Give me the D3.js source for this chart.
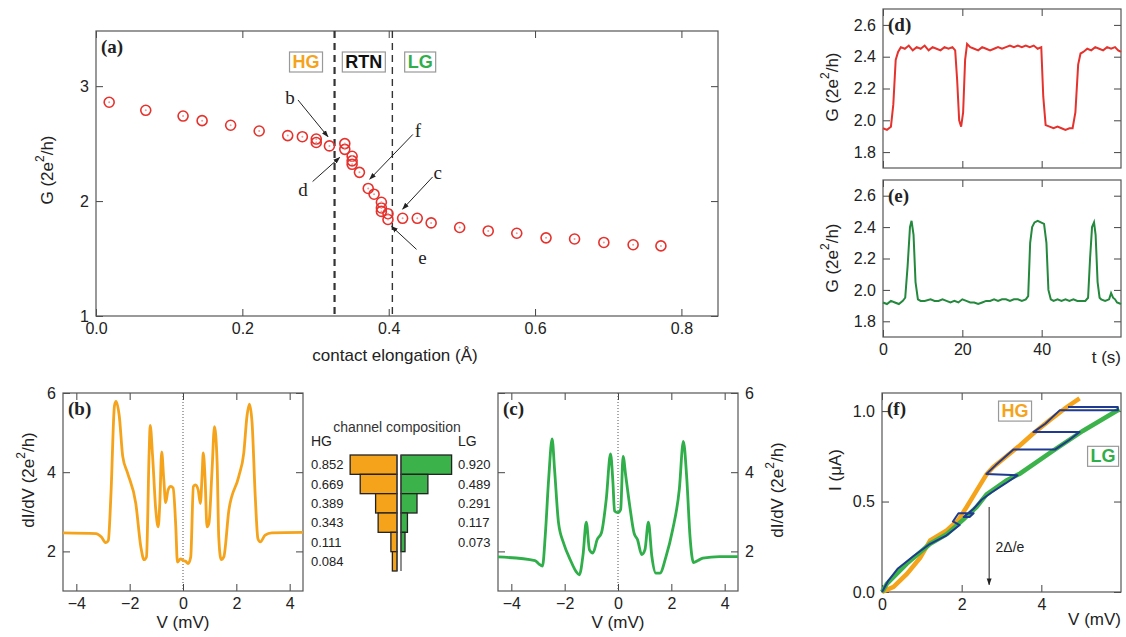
<!DOCTYPE html>
<html lang="en">
<head>
<meta charset="UTF-8">
<title>Atomic contact: RTN, dI/dV and I-V</title>
<script src="https://cdn.jsdelivr.net/npm/d3@7"></script>
<style>
  body { margin: 0; background: #fff; }
  svg text { font-family: "Liberation Sans", Arial, sans-serif; fill: #222; }
  .tick line { stroke: #444; stroke-width: 1; }
  .domain { display: none; }
  .plab { font-family: "Liberation Serif", serif; font-weight: bold; font-size: 19px; }
  .ann { font-family: "Liberation Serif", serif; font-size: 19px; }
</style>
</head>
<body>
<svg id="fig" width="1126" height="637"></svg>
<script>
// ---- data ----
// (a) conductance vs contact elongation
const elongA = [0.018,0.068,0.119,0.145,0.184,0.223,0.262,0.282,0.301,0.301,0.319,0.340,0.340,0.350,0.350,0.350,0.360,0.372,0.380,0.390,0.390,0.390,0.399,0.399,0.419,0.439,0.458,0.497,0.536,0.575,0.615,0.654,0.694,0.734,0.772];
const condA  = [2.86,2.79,2.74,2.70,2.66,2.61,2.57,2.56,2.54,2.51,2.48,2.50,2.45,2.39,2.35,2.32,2.25,2.11,2.06,1.99,1.94,1.91,1.89,1.84,1.85,1.85,1.81,1.77,1.74,1.72,1.68,1.67,1.64,1.62,1.61];
const regionBounds = [0.326, 0.405];
const regionNames = ["HG", "RTN", "LG"];
const regionPos = [0.287, 0.366, 0.443];
// annotation letters: [label, labelX, labelY, fromX, fromY, toX, toY]
const arrowsA = [
  ["b", 0.265, 2.90, 0.276, 2.88, 0.317, 2.56],
  ["d", 0.283, 2.10, 0.296, 2.17, 0.333, 2.38],
  ["f", 0.440, 2.61, 0.433, 2.58, 0.374, 2.19],
  ["c", 0.467, 2.25, 0.460, 2.21, 0.419, 1.93],
  ["e", 0.446, 1.51, 0.438, 1.58, 0.404, 1.78]
];

// (d) and (e) conductance time traces [t (s), G]
const traceD = [[0,1.95],[1,1.94],[2,1.96],[2.6,2.10],[3.2,2.38],[3.8,2.43],[4.5,2.46],[5.5,2.45],[6.5,2.47],[7.5,2.44],[8.5,2.46],[9.5,2.45],[10.5,2.47],[11.5,2.44],[12.5,2.46],[13.5,2.45],[14.5,2.44],[15.5,2.46],[16.5,2.45],[17.5,2.46],[18.2,2.44],[18.7,2.25],[19.2,2.00],[19.7,1.96],[20.2,2.05],[20.7,2.38],[21.2,2.48],[22,2.46],[23,2.45],[24,2.44],[25,2.46],[26,2.45],[27,2.44],[28,2.45],[29,2.46],[30,2.45],[31,2.46],[32,2.47],[33,2.46],[34,2.47],[35,2.46],[36,2.47],[37,2.46],[38,2.47],[39,2.45],[39.9,2.46],[40.4,2.15],[41,1.97],[42,1.96],[43,1.95],[44,1.96],[45,1.95],[46,1.94],[47,1.95],[47.8,1.95],[48.5,2.05],[49.2,2.35],[49.8,2.42],[50.5,2.43],[51.5,2.45],[52.5,2.44],[53.5,2.46],[54.5,2.45],[55.5,2.44],[56.5,2.46],[57.5,2.45],[58.5,2.46],[59.3,2.44],[60,2.43]];
const traceE = [[0,1.92],[1,1.91],[2,1.93],[3,1.92],[4,1.91],[5,1.93],[5.6,1.95],[6.2,2.15],[6.8,2.40],[7.2,2.44],[7.7,2.35],[8.2,2.05],[8.8,1.94],[9.5,1.93],[10.5,1.93],[12,1.94],[13,1.93],[14,1.93],[15,1.94],[16,1.93],[17,1.92],[18,1.93],[19,1.92],[20,1.94],[21,1.93],[22,1.92],[23,1.92],[24,1.91],[25,1.92],[26,1.93],[27,1.93],[28,1.94],[29,1.93],[30,1.94],[31,1.94],[32,1.93],[33,1.94],[34,1.94],[35,1.93],[36,1.94],[36.6,1.96],[37.1,2.30],[37.6,2.40],[38.2,2.43],[39,2.44],[39.8,2.43],[40.6,2.42],[41.2,2.30],[41.7,2.00],[42.3,1.94],[43,1.93],[44,1.94],[45,1.93],[46,1.94],[47,1.93],[48,1.94],[49,1.93],[50,1.93],[51,1.93],[51.7,1.95],[52.2,2.20],[52.7,2.40],[53.2,2.43],[53.6,2.35],[54.1,2.05],[54.6,1.95],[55,1.94],[56,1.93],[57,1.94],[57.5,1.98],[58,1.95],[58.5,1.94],[59,1.92],[60,1.91]];

// (b) HG and (c) LG differential conductance [V (mV), dI/dV]
const spectrumHG = [[-4.5,2.47],[-3.26,2.45],[-3.07,2.37],[-2.89,2.22],[-2.80,2.28],[-2.70,3.47],[-2.57,5.68],[-2.51,5.79],[-2.39,5.42],[-2.26,4.40],[-2.08,3.98],[-1.77,3.21],[-1.58,2.11],[-1.46,1.79],[-1.37,1.86],[-1.27,4.49],[-1.23,5.18],[-1.14,4.40],[-1.02,3.04],[-0.93,2.62],[-0.87,3.21],[-0.80,4.51],[-0.72,3.81],[-0.65,3.23],[-0.56,3.55],[-0.46,3.64],[-0.37,3.60],[-0.27,2.62],[-0.21,1.73],[-0.09,1.81],[0,1.77],[0.10,1.75],[0.19,1.69],[0.29,1.86],[0.39,3.64],[0.47,3.68],[0.57,3.55],[0.65,3.21],[0.72,3.98],[0.76,4.49],[0.83,3.81],[0.90,2.62],[0.97,2.70],[1.09,4.06],[1.18,5.15],[1.28,4.23],[1.34,2.37],[1.43,1.79],[1.53,1.86],[1.72,3.04],[2.09,3.89],[2.28,4.49],[2.40,5.42],[2.49,5.72],[2.59,5.25],[2.71,3.38],[2.81,2.32],[2.90,2.24],[3.08,2.41],[3.33,2.47],[4.5,2.48]];
const spectrumLG = [[-4.5,1.86],[-3.11,1.77],[-2.96,1.68],[-2.83,1.63],[-2.73,2.38],[-2.60,3.83],[-2.47,4.84],[-2.38,4.08],[-2.23,2.72],[-2.04,2.21],[-1.79,1.79],[-1.57,1.49],[-1.45,1.41],[-1.31,1.92],[-1.19,2.74],[-1.07,2.04],[-0.94,1.96],[-0.78,2.30],[-0.62,2.47],[-0.44,3.32],[-0.28,4.46],[-0.19,3.74],[-0.13,3.02],[0,2.98],[0.10,3.06],[0.19,4.40],[0.29,3.91],[0.44,3.15],[0.60,2.47],[0.73,2.30],[0.89,1.92],[1.01,2.04],[1.14,2.74],[1.27,1.87],[1.42,1.45],[1.57,1.45],[1.80,1.87],[2.05,2.55],[2.30,3.57],[2.45,4.78],[2.58,3.83],[2.70,2.38],[2.83,1.72],[3.00,1.77],[3.18,1.83],[3.81,1.87],[4.5,1.87]];

// channel composition (transmissions)
const tauHG = [0.852, 0.669, 0.389, 0.343, 0.111, 0.084];
const tauLG = [0.920, 0.489, 0.291, 0.117, 0.073];

// (f) I-V curves [V (mV), I (uA)]
const ivHG = [[0,0],[0.29,0.028],[0.625,0.10],[0.96,0.19],[1.21,0.285],[1.625,0.34],[1.92,0.40],[2.125,0.47],[2.375,0.56],[2.625,0.65],[2.79,0.69],[3.125,0.75],[3.46,0.81],[3.79,0.875],[4.21,0.95],[4.625,1.02],[4.96,1.07]];
const ivLG = [[0,0],[0.125,0.046],[0.625,0.157],[1.21,0.267],[1.625,0.32],[2.04,0.40],[2.375,0.47],[2.625,0.54],[3.125,0.617],[3.46,0.654],[4.29,0.78],[5.04,0.89],[5.96,1.01]];
const ivRTN = [[0,0],[0.15,0.06],[0.4,0.13],[0.8,0.2],[1.2,0.265],[1.6,0.31],[1.95,0.37],[1.78,0.39],[1.92,0.435],[2.3,0.435],[2.2,0.415],[2.05,0.415],[2.3,0.46],[2.5,0.51],[2.75,0.55],[3.1,0.6],[3.4,0.645],[2.62,0.652],[2.85,0.70],[3.3,0.788],[4.35,0.788],[4.7,0.84],[4.96,0.884],[3.8,0.884],[4.1,0.93],[4.46,1.004],[5.92,1.004],[5.92,1.022],[4.67,1.022]];

const RED = "#e5322d", ORANGE = "#f5a31b", GREEN = "#2fae4a", DKGREEN = "#24893d", NAVY = "#1f3a8f";

const svg = d3.select("#fig");
svg.append("defs").append("marker")
  .attr("id", "arr").attr("viewBox", "0 0 10 10").attr("refX", 9).attr("refY", 5)
  .attr("markerWidth", 7).attr("markerHeight", 7).attr("orient", "auto")
  .append("path").attr("d", "M0,1.5L10,5L0,8.5Z").attr("fill", "#222");

const TK = 7;
// frame with inward ticks on all four sides
function panel(x, y, o) {
  const g = svg.append("g");
  const [x0, x1] = x.range(), [yb, yt] = y.range();
  g.append("g").attr("transform", `translate(0,${yb})`)
    .call(d3.axisBottom(x).tickValues(o.xt).tickSize(-TK).tickPadding(7).tickFormat(o.xlab ? o.xf : ""));
  g.append("g").attr("transform", `translate(0,${yt})`)
    .call(d3.axisTop(x).tickValues(o.xt).tickSize(-TK).tickFormat(""));
  g.append("g").attr("transform", `translate(${x0},0)`)
    .call(d3.axisLeft(y).tickValues(o.yt).tickSize(-TK).tickPadding(7).tickFormat(o.ylab === "left" ? o.yf : ""));
  g.append("g").attr("transform", `translate(${x1},0)`)
    .call(d3.axisRight(y).tickValues(o.yt).tickSize(-TK).tickPadding(7).tickFormat(o.ylab === "right" ? o.yf : ""));
  g.selectAll(".tick text").attr("font-size", 16).attr("fill", "#222")
    .attr("font-family", "'Liberation Sans', Arial, sans-serif");
  g.append("rect").attr("x", x0).attr("y", yt).attr("width", x1 - x0).attr("height", yb - yt)
    .attr("fill", "none").attr("stroke", "#555").attr("stroke-width", 1.2);
  g.append("text").attr("class", "plab").attr("x", x0 + 5).attr("y", yt + 22).text(o.name);
  return g;
}
// rotated axis title, optional superscript: [before, sup, after]
function vlabel(x, y, parts) {
  const t = svg.append("text").attr("transform", `translate(${x},${y}) rotate(-90)`)
    .attr("text-anchor", "middle").attr("dominant-baseline", "central").style("font-size", "17px");
  t.append("tspan").text(parts[0]);
  if (parts.length > 1) {
    t.append("tspan").attr("dy", -7).style("font-size", "12px").text(parts[1]);
    t.append("tspan").attr("dy", 7).text(parts[2]);
  }
}
function boxed(g, x, y, txt, col) {
  const box = g.append("g");
  const r = box.append("rect");
  const t = box.append("text").attr("x", x).attr("y", y).attr("text-anchor", "middle")
    .attr("dominant-baseline", "central").style("font-size", "18px").style("font-weight", "bold")
    .style("fill", col).text(txt);
  const b = t.node().getBBox();
  r.attr("x", b.x - 3).attr("y", b.y).attr("width", b.width + 6).attr("height", b.height)
    .attr("fill", "#fff").attr("stroke", "#999").attr("stroke-width", 1.2);
}
const G_LABEL = ["G (2e", "2", "/h)"];
const DIDV_LABEL = ["dI/dV (2e", "2", "/h)"];

// ---------- (a) ----------
const xA = d3.scaleLinear().domain([0, 0.85]).range([96, 718]);
const yA = d3.scaleLinear().domain([1, 3.48]).range([316, 31]);
const gA = panel(xA, yA, { xt: [0, 0.2, 0.4, 0.6, 0.8], xlab: true, xf: d3.format(".1f"),
  yt: [1, 2, 3], ylab: "left", yf: d3.format("d"), name: "(a)" });
gA.selectAll(".dash").data(regionBounds).join("line")
  .attr("x1", d => xA(d)).attr("x2", d => xA(d)).attr("y1", yA.range()[1]).attr("y2", yA.range()[0])
  .attr("stroke", "#333").attr("stroke-width", (d, i) => i ? 1.4 : 2.2).attr("stroke-dasharray", "7,5");
const regionCols = [ORANGE, "#111", GREEN];
regionNames.forEach((n, i) => boxed(gA, xA(regionPos[i]), 62, n, regionCols[i]));
gA.append("g").selectAll("circle").data(elongA).join("circle")
  .attr("cx", d => xA(d)).attr("cy", (d, i) => yA(condA[i])).attr("r", 5)
  .attr("fill", "none").attr("stroke", RED).attr("stroke-width", 1.6);
gA.append("g").selectAll("circle").data(elongA).join("circle")
  .attr("cx", d => xA(d)).attr("cy", (d, i) => yA(condA[i])).attr("r", 1).attr("fill", "#f29a96");
arrowsA.forEach(a => {
  gA.append("line").attr("x1", xA(a[3])).attr("y1", yA(a[4])).attr("x2", xA(a[5])).attr("y2", yA(a[6]))
    .attr("stroke", "#222").attr("stroke-width", 1).attr("marker-end", "url(#arr)");
  gA.append("text").attr("class", "ann").attr("x", xA(a[1])).attr("y", yA(a[2]))
    .attr("text-anchor", "middle").attr("dominant-baseline", "central").text(a[0]);
});
svg.append("text").attr("x", 395).attr("y", 355).attr("text-anchor", "middle")
  .attr("dominant-baseline", "central").style("font-size", "17px").text("contact elongation (Å)");
vlabel(47, 170, G_LABEL);

// ---------- (d), (e) ----------
const xT = d3.scaleLinear().domain([0, 60]).range([883, 1121]);
const yD = d3.scaleLinear().domain([1.7, 2.7]).range([168, 9]);
const yE = d3.scaleLinear().domain([1.7, 2.7]).range([337, 180]);
const gT = [0, 20, 40], gY = [1.8, 2.0, 2.2, 2.4, 2.6];
const gD = panel(xT, yD, { xt: gT, xlab: false, yt: gY, ylab: "left", yf: d3.format(".1f"), name: "(d)" });
const gE = panel(xT, yE, { xt: gT, xlab: true, xf: d3.format("d"), yt: gY, ylab: "left", yf: d3.format(".1f"), name: "(e)" });
gD.append("path").datum(traceD).attr("fill", "none").attr("stroke", RED).attr("stroke-width", 2)
  .attr("d", d3.line().x(d => xT(d[0])).y(d => yD(d[1])));
gE.append("path").datum(traceE).attr("fill", "none").attr("stroke", DKGREEN).attr("stroke-width", 2)
  .attr("d", d3.line().x(d => xT(d[0])).y(d => yE(d[1])));
vlabel(832, 87, G_LABEL);
vlabel(832, 258, G_LABEL);
svg.append("text").attr("x", 1121).attr("y", 357).attr("text-anchor", "end")
  .attr("dominant-baseline", "central").style("font-size", "17px").text("t (s)");

// ---------- (b), (c) ----------
const yS = d3.scaleLinear().domain([1, 6]).range([591, 393]);
const xB = d3.scaleLinear().domain([-4.5, 4.5]).range([63, 303]);
const xC = d3.scaleLinear().domain([-4.5, 4.5]).range([498, 738]);
const vT = [-4, -2, 0, 2, 4];
const gB = panel(xB, yS, { xt: vT, xlab: true, xf: d3.format("d"), yt: [2, 4, 6], ylab: "left", yf: d3.format("d"), name: "(b)" });
const gC = panel(xC, yS, { xt: vT, xlab: true, xf: d3.format("d"), yt: [2, 4, 6], ylab: "right", yf: d3.format("d"), name: "(c)" });
[[gB, xB, spectrumHG, ORANGE], [gC, xC, spectrumLG, GREEN]].forEach(([g, x, data, col]) => {
  g.append("line").attr("x1", x(0)).attr("x2", x(0)).attr("y1", yS.range()[1]).attr("y2", yS.range()[0])
    .attr("stroke", "#555").attr("stroke-width", 1).attr("stroke-dasharray", "1,2");
  g.append("path").datum(data).attr("fill", "none").attr("stroke", col).attr("stroke-width", 2.8)
    .attr("stroke-linejoin", "round")
    .attr("d", d3.line().curve(d3.curveMonotoneX).x(d => x(d[0])).y(d => yS(d[1])));
});
svg.append("text").attr("x", xB(0)).attr("y", 622).attr("text-anchor", "middle").attr("dominant-baseline", "central")
  .style("font-size", "17px").text("V (mV)");
svg.append("text").attr("x", xC(0)).attr("y", 622).attr("text-anchor", "middle").attr("dominant-baseline", "central")
  .style("font-size", "17px").text("V (mV)");
vlabel(28, 480, DIDV_LABEL);
vlabel(777, 490, DIDV_LABEL);

// ---------- channel composition ----------
const row = d3.scaleBand().domain(d3.range(tauHG.length)).range([455, 571]).paddingInner(0);
const wT = d3.scaleLinear().domain([0, 1]).range([0, 55]);
const cx0 = 397, cx1 = 401;
const gM = svg.append("g");
gM.append("text").attr("x", 397).attr("y", 427).attr("text-anchor", "middle").attr("dominant-baseline", "central")
  .style("font-size", "14px").style("fill", "#333").text("channel composition");
gM.append("text").attr("x", 311).attr("y", 441).attr("dominant-baseline", "central").style("font-size", "14px").text("HG");
gM.append("text").attr("x", 458).attr("y", 441).attr("dominant-baseline", "central").style("font-size", "14px").text("LG");
gM.selectAll(".bh").data(tauHG).join("rect")
  .attr("x", d => cx0 - wT(d)).attr("y", (d, i) => row(i)).attr("width", d => wT(d)).attr("height", row.bandwidth())
  .attr("fill", ORANGE).attr("stroke", "#222").attr("stroke-width", 1.3);
gM.selectAll(".bl").data(tauLG).join("rect")
  .attr("x", cx1).attr("y", (d, i) => row(i)).attr("width", d => wT(d)).attr("height", row.bandwidth())
  .attr("fill", "#3cb34a").attr("stroke", "#222").attr("stroke-width", 1.3);
[cx0, cx1].forEach(x => gM.append("line").attr("x1", x).attr("x2", x).attr("y1", 455).attr("y2", 571)
  .attr("stroke", "#444").attr("stroke-width", 1.2));
gM.selectAll(".th").data(tauHG).join("text")
  .attr("x", 311).attr("y", (d, i) => row(i) + row.bandwidth() / 2).attr("dominant-baseline", "central")
  .style("font-size", "13px").text(d => d3.format(".3f")(d));
gM.selectAll(".tl").data(tauLG).join("text")
  .attr("x", 458).attr("y", (d, i) => row(i) + row.bandwidth() / 2).attr("dominant-baseline", "central")
  .style("font-size", "13px").text(d => d3.format(".3f")(d));

// ---------- (f) ----------
const xF = d3.scaleLinear().domain([0, 6]).range([882, 1121]);
const yF = d3.scaleLinear().domain([0, 1.1]).range([592, 393]);
const gF = panel(xF, yF, { xt: [0, 2, 4], xlab: true, xf: d3.format("d"), yt: [0, 0.5, 1.0], ylab: "left", yf: d3.format(".1f"), name: "(f)" });
const lineF = d3.line().x(d => xF(d[0])).y(d => yF(d[1]));
gF.append("path").datum(ivHG).attr("fill", "none").attr("stroke", ORANGE).attr("stroke-width", 4.5).attr("d", lineF);
gF.append("path").datum(ivLG).attr("fill", "none").attr("stroke", "#3cb34a").attr("stroke-width", 4.5).attr("d", lineF);
gF.append("path").datum(ivRTN).attr("fill", "none").attr("stroke", NAVY).attr("stroke-width", 2)
  .attr("stroke-linejoin", "round").attr("d", lineF);
gF.append("line").attr("x1", xF(2.69)).attr("x2", xF(2.69)).attr("y1", yF(0.47)).attr("y2", yF(0.04))
  .attr("stroke", "#222").attr("stroke-width", 1).attr("marker-end", "url(#arr)");
gF.append("text").attr("x", xF(2.85)).attr("y", yF(0.25)).attr("dominant-baseline", "central")
  .style("font-size", "14px").text("2Δ/e");
boxed(gF, xF(3.34), yF(1.0), "HG", ORANGE);
boxed(gF, xF(5.55), yF(0.75), "LG", GREEN);
svg.append("text").attr("x", 1121).attr("y", 619).attr("text-anchor", "end").attr("dominant-baseline", "central")
  .style("font-size", "17px").text("V (mV)");
vlabel(835, 470, ["I (μA)"]);
</script>
</body>
</html>
